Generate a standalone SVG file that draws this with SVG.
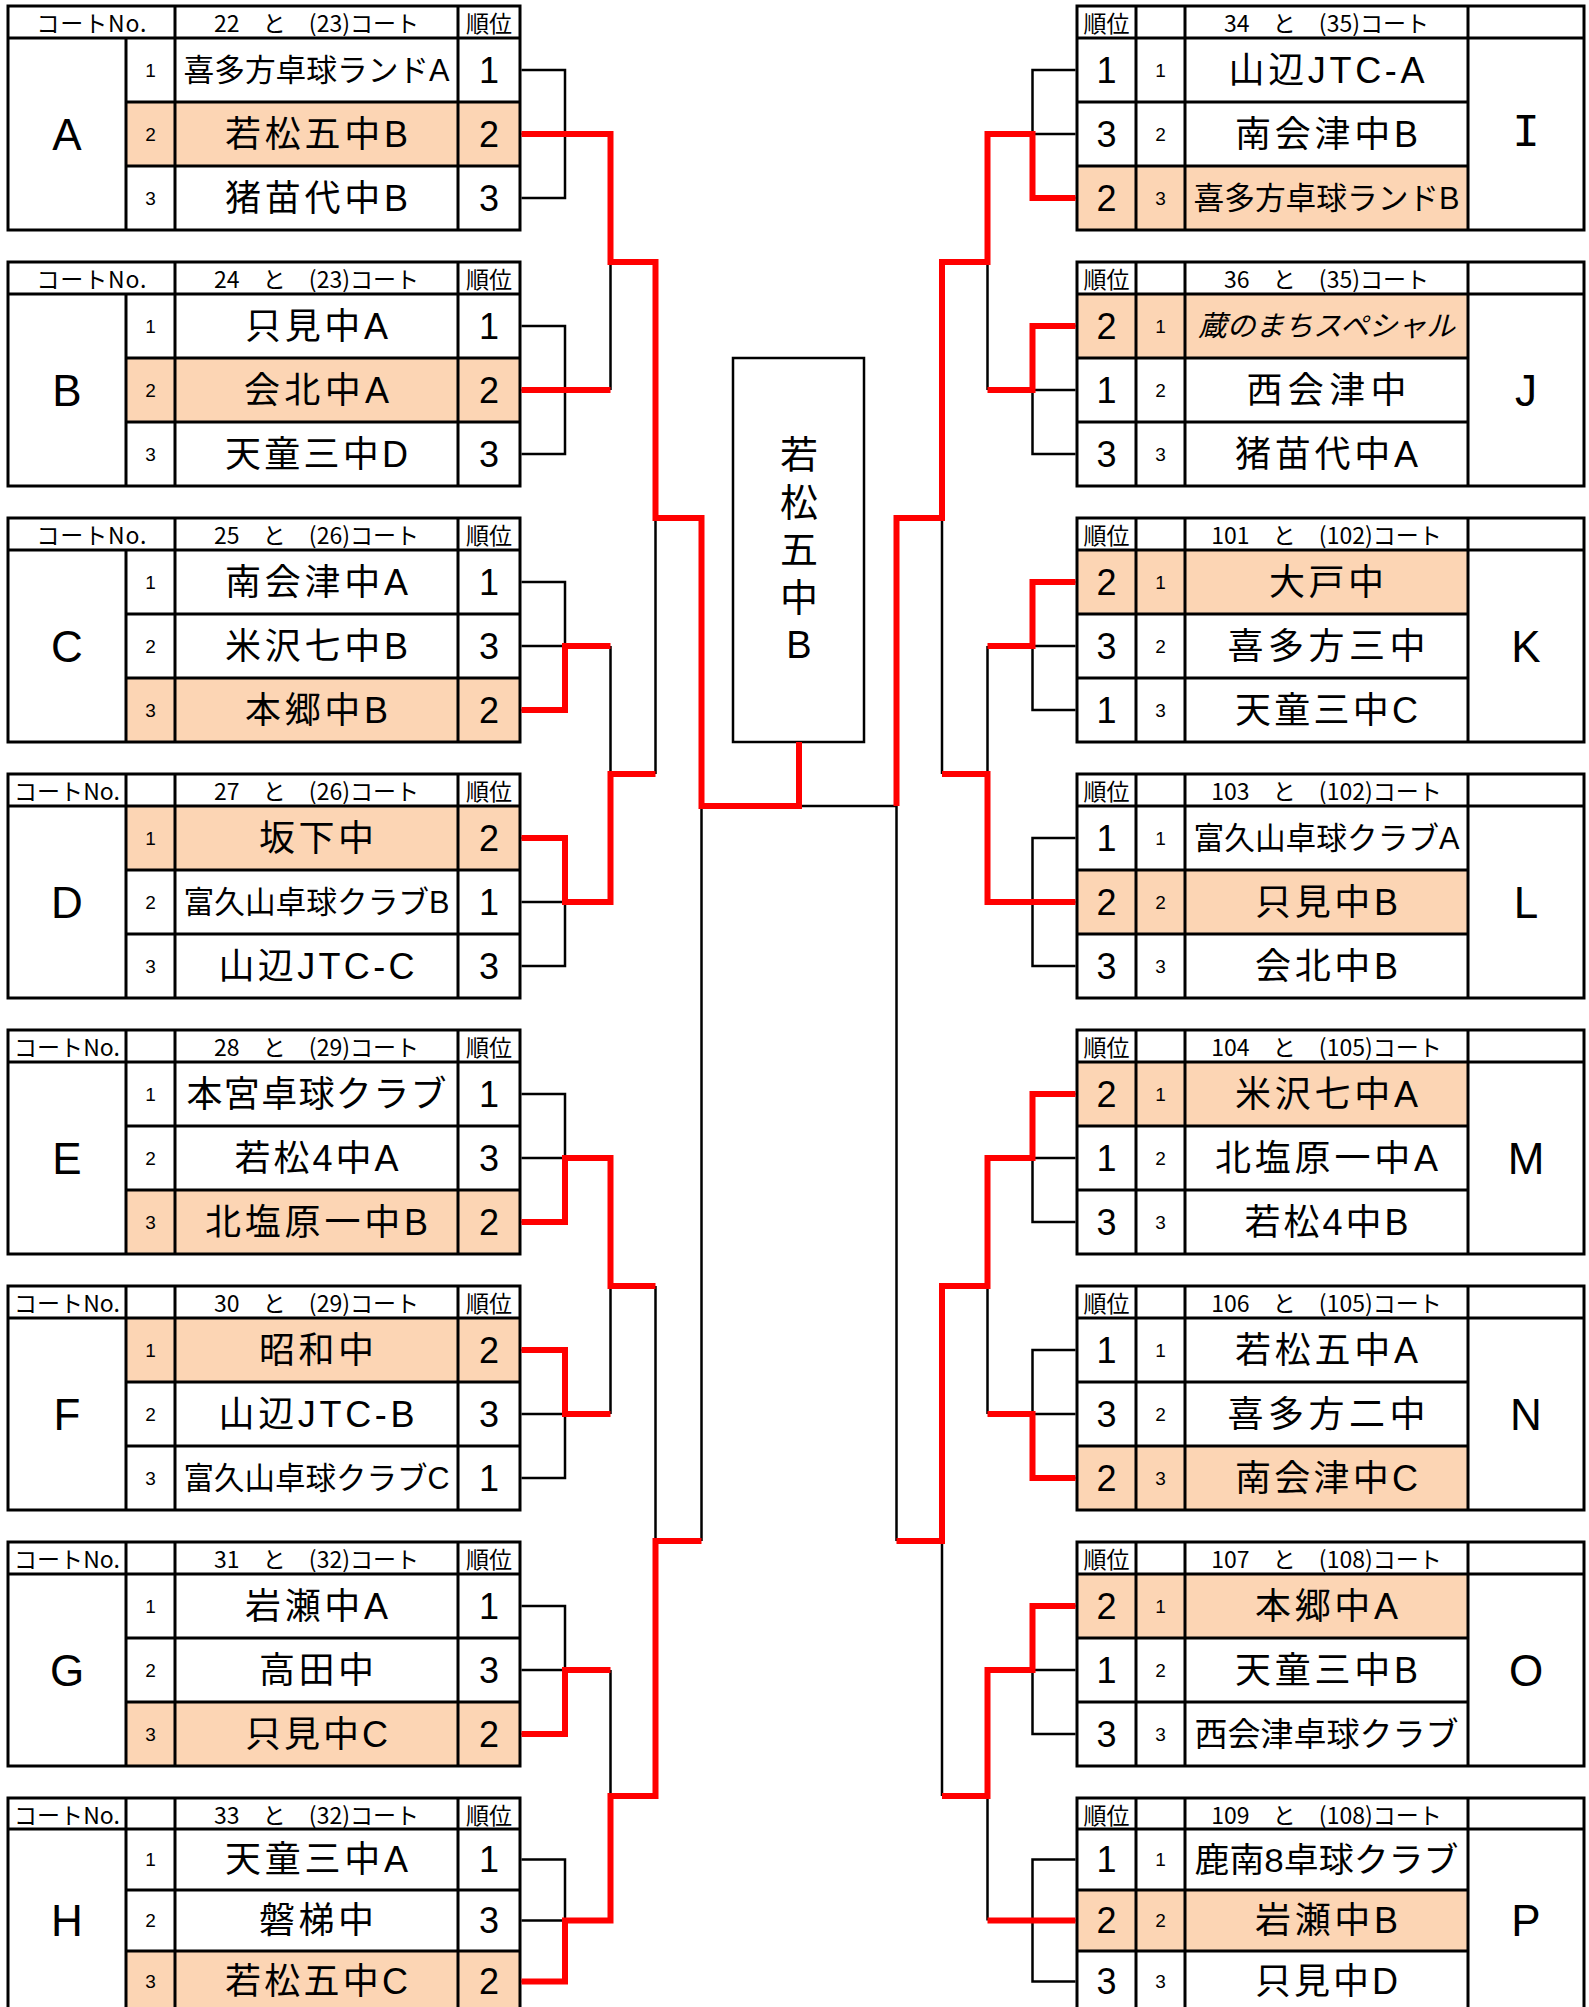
<svg xmlns="http://www.w3.org/2000/svg" width="1589" height="2007" viewBox="0 0 1589 2007">
<style>
.tb{fill:none;stroke:#000;stroke-width:3}
.ln{fill:none;stroke:#000;stroke-width:3}
.hl{fill:#FCD5B4}
.bk{fill:none;stroke:#000;stroke-width:2.5}
.rd{fill:none;stroke:#FF0000;stroke-width:6;stroke-linejoin:miter}
.nm{font-family:"Liberation Sans","Noto Sans CJK JP","Noto Sans CJK SC",sans-serif;font-size:36px;text-anchor:middle;dominant-baseline:central;fill:#000}
.sm{font-size:31px}
.it{font-style:italic;font-size:28.5px}
.hd{font-family:"Noto Sans CJK JP","Noto Sans CJK SC",sans-serif;font-size:23px;word-spacing:18px;text-anchor:middle;dominant-baseline:central;fill:#000}
.rk{font-family:"Liberation Sans",Arial,sans-serif;font-size:36px;text-anchor:middle;dominant-baseline:central;fill:#000}
.no{font-family:"Liberation Sans",Arial,sans-serif;font-size:19px;text-anchor:middle;dominant-baseline:central;fill:#000}
.lt{font-family:"Liberation Sans",Arial,sans-serif;font-size:44px;text-anchor:middle;dominant-baseline:central;fill:#000}
.ce{font-family:"Liberation Sans","Noto Sans CJK JP","Noto Sans CJK SC",sans-serif;font-size:38px;text-anchor:middle;dominant-baseline:central;fill:#000}
</style>
<rect x="0" y="0" width="1589" height="2007" fill="#FFFFFF"/>

<!-- LEFT TABLES -->
<g id="table-A">
<rect class="hl" x="126" y="102" width="394" height="64"/>
<rect class="tb" x="8" y="6" width="512" height="224"/>
<path class="ln" d="M8,38H520M126,102H520M126,166H520M126,38V230M175,6V230M458,6V230"/>
<text class="hd" x="91.5" y="22" textLength="110" lengthAdjust="spacing">コートNo.</text>
<text class="hd" x="316.5" y="22">22 と (23)コート</text>
<text class="hd" x="489" y="22">順位</text>
<text class="lt" x="67" y="134">A</text>
<text class="no" x="150.5" y="70">1</text><text class="no" x="150.5" y="134">2</text><text class="no" x="150.5" y="198">3</text>
<text class="nm sm" x="316.5" y="70" textLength="266" lengthAdjust="spacingAndGlyphs">喜多方卓球ランドA</text>
<text class="nm" x="316.5" y="134" textLength="183" lengthAdjust="spacing">若松五中B</text>
<text class="nm" x="316.5" y="198" textLength="183" lengthAdjust="spacing">猪苗代中B</text>
<text class="rk" x="489" y="70">1</text><text class="rk" x="489" y="134">2</text><text class="rk" x="489" y="198">3</text>
</g>

<g id="table-B">
<rect class="hl" x="126" y="358" width="394" height="64"/>
<rect class="tb" x="8" y="262" width="512" height="224"/>
<path class="ln" d="M8,294H520M126,358H520M126,422H520M126,294V486M175,262V486M458,262V486"/>
<text class="hd" x="91.5" y="278" textLength="110" lengthAdjust="spacing">コートNo.</text>
<text class="hd" x="316.5" y="278">24 と (23)コート</text>
<text class="hd" x="489" y="278">順位</text>
<text class="lt" x="67" y="390">B</text>
<text class="no" x="150.5" y="326">1</text><text class="no" x="150.5" y="390">2</text><text class="no" x="150.5" y="454">3</text>
<text class="nm" x="316.5" y="326" textLength="143" lengthAdjust="spacing">只見中A</text>
<text class="nm" x="316.5" y="390" textLength="145" lengthAdjust="spacing">会北中A</text>
<text class="nm" x="316.5" y="454" textLength="183" lengthAdjust="spacing">天童三中D</text>
<text class="rk" x="489" y="326">1</text><text class="rk" x="489" y="390">2</text><text class="rk" x="489" y="454">3</text>
</g>

<g id="table-C">
<rect class="hl" x="126" y="678" width="394" height="64"/>
<rect class="tb" x="8" y="518" width="512" height="224"/>
<path class="ln" d="M8,550H520M126,614H520M126,678H520M126,550V742M175,518V742M458,518V742"/>
<text class="hd" x="91.5" y="534" textLength="110" lengthAdjust="spacing">コートNo.</text>
<text class="hd" x="316.5" y="534">25 と (26)コート</text>
<text class="hd" x="489" y="534">順位</text>
<text class="lt" x="67" y="646">C</text>
<text class="no" x="150.5" y="582">1</text><text class="no" x="150.5" y="646">2</text><text class="no" x="150.5" y="710">3</text>
<text class="nm" x="316.5" y="582" textLength="183" lengthAdjust="spacing">南会津中A</text>
<text class="nm" x="316.5" y="646" textLength="183" lengthAdjust="spacing">米沢七中B</text>
<text class="nm" x="316.5" y="710" textLength="143" lengthAdjust="spacing">本郷中B</text>
<text class="rk" x="489" y="582">1</text><text class="rk" x="489" y="646">3</text><text class="rk" x="489" y="710">2</text>
</g>

<g id="table-D">
<rect class="hl" x="126" y="806" width="394" height="64"/>
<rect class="tb" x="8" y="774" width="512" height="224"/>
<path class="ln" d="M8,806H520M126,870H520M126,934H520M126,774V998M175,774V998M458,774V998"/>
<text class="hd" x="67" y="790" textLength="106" lengthAdjust="spacing">コートNo.</text>
<text class="hd" x="316.5" y="790">27 と (26)コート</text>
<text class="hd" x="489" y="790">順位</text>
<text class="lt" x="67" y="902">D</text>
<text class="no" x="150.5" y="838">1</text><text class="no" x="150.5" y="902">2</text><text class="no" x="150.5" y="966">3</text>
<text class="nm" x="316.5" y="838" textLength="115" lengthAdjust="spacing">坂下中</text>
<text class="nm sm" x="316.5" y="902" textLength="266" lengthAdjust="spacingAndGlyphs">富久山卓球クラブB</text>
<text class="nm" x="316.5" y="966" textLength="196" lengthAdjust="spacing">山辺JTC-C</text>
<text class="rk" x="489" y="838">2</text><text class="rk" x="489" y="902">1</text><text class="rk" x="489" y="966">3</text>
</g>

<g id="table-E">
<rect class="hl" x="126" y="1190" width="394" height="64"/>
<rect class="tb" x="8" y="1030" width="512" height="224"/>
<path class="ln" d="M8,1062H520M126,1126H520M126,1190H520M126,1030V1254M175,1030V1254M458,1030V1254"/>
<text class="hd" x="67" y="1046" textLength="106" lengthAdjust="spacing">コートNo.</text>
<text class="hd" x="316.5" y="1046">28 と (29)コート</text>
<text class="hd" x="489" y="1046">順位</text>
<text class="lt" x="67" y="1158">E</text>
<text class="no" x="150.5" y="1094">1</text><text class="no" x="150.5" y="1158">2</text><text class="no" x="150.5" y="1222">3</text>
<text class="nm" x="316.5" y="1094" textLength="260" lengthAdjust="spacing">本宮卓球クラブ</text>
<text class="nm" x="316.5" y="1158" textLength="164" lengthAdjust="spacing">若松4中A</text>
<text class="nm" x="316.5" y="1222" textLength="223" lengthAdjust="spacing">北塩原一中B</text>
<text class="rk" x="489" y="1094">1</text><text class="rk" x="489" y="1158">3</text><text class="rk" x="489" y="1222">2</text>
</g>

<g id="table-F">
<rect class="hl" x="126" y="1318" width="394" height="64"/>
<rect class="tb" x="8" y="1286" width="512" height="224"/>
<path class="ln" d="M8,1318H520M126,1382H520M126,1446H520M126,1286V1510M175,1286V1510M458,1286V1510"/>
<text class="hd" x="67" y="1302" textLength="106" lengthAdjust="spacing">コートNo.</text>
<text class="hd" x="316.5" y="1302">30 と (29)コート</text>
<text class="hd" x="489" y="1302">順位</text>
<text class="lt" x="67" y="1414">F</text>
<text class="no" x="150.5" y="1350">1</text><text class="no" x="150.5" y="1414">2</text><text class="no" x="150.5" y="1478">3</text>
<text class="nm" x="316.5" y="1350" textLength="115" lengthAdjust="spacing">昭和中</text>
<text class="nm" x="316.5" y="1414" textLength="196" lengthAdjust="spacing">山辺JTC-B</text>
<text class="nm sm" x="316.5" y="1478" textLength="266" lengthAdjust="spacingAndGlyphs">富久山卓球クラブC</text>
<text class="rk" x="489" y="1350">2</text><text class="rk" x="489" y="1414">3</text><text class="rk" x="489" y="1478">1</text>
</g>

<g id="table-G">
<rect class="hl" x="126" y="1702" width="394" height="64"/>
<rect class="tb" x="8" y="1542" width="512" height="224"/>
<path class="ln" d="M8,1574H520M126,1638H520M126,1702H520M126,1542V1766M175,1542V1766M458,1542V1766"/>
<text class="hd" x="67" y="1558" textLength="106" lengthAdjust="spacing">コートNo.</text>
<text class="hd" x="316.5" y="1558">31 と (32)コート</text>
<text class="hd" x="489" y="1558">順位</text>
<text class="lt" x="67" y="1670">G</text>
<text class="no" x="150.5" y="1606">1</text><text class="no" x="150.5" y="1670">2</text><text class="no" x="150.5" y="1734">3</text>
<text class="nm" x="316.5" y="1606" textLength="143" lengthAdjust="spacing">岩瀬中A</text>
<text class="nm" x="316.5" y="1670" textLength="115" lengthAdjust="spacing">高田中</text>
<text class="nm" x="316.5" y="1734" textLength="143" lengthAdjust="spacing">只見中C</text>
<text class="rk" x="489" y="1606">1</text><text class="rk" x="489" y="1670">3</text><text class="rk" x="489" y="1734">2</text>
</g>

<g id="table-H">
<rect class="hl" x="126" y="1951" width="394" height="61"/>
<rect class="tb" x="8" y="1798" width="512" height="214"/>
<path class="ln" d="M8,1829H520M126,1890H520M126,1951H520M126,1798V2012M175,1798V2012M458,1798V2012"/>
<text class="hd" x="67" y="1813.5" textLength="106" lengthAdjust="spacing">コートNo.</text>
<text class="hd" x="316.5" y="1813.5">33 と (32)コート</text>
<text class="hd" x="489" y="1813.5">順位</text>
<text class="lt" x="67" y="1920.5">H</text>
<text class="no" x="150.5" y="1859.5">1</text><text class="no" x="150.5" y="1920.5">2</text><text class="no" x="150.5" y="1981.5">3</text>
<text class="nm" x="316.5" y="1859.5" textLength="183" lengthAdjust="spacing">天童三中A</text>
<text class="nm" x="316.5" y="1920.5" textLength="115" lengthAdjust="spacing">磐梯中</text>
<text class="nm" x="316.5" y="1981.5" textLength="183" lengthAdjust="spacing">若松五中C</text>
<text class="rk" x="489" y="1859.5">1</text><text class="rk" x="489" y="1920.5">3</text><text class="rk" x="489" y="1981.5">2</text>
</g>

<!-- RIGHT TABLES -->
<g id="table-I">
<rect class="hl" x="1077" y="166" width="391" height="64"/>
<rect class="tb" x="1077" y="6" width="507" height="224"/>
<path class="ln" d="M1077,38H1584M1077,102H1468M1077,166H1468M1136,6V230M1185,6V230M1468,6V230"/>
<text class="hd" x="1106.5" y="22">順位</text>
<text class="hd" x="1326.5" y="22">34 と (35)コート</text>
<text x="1526" y="134" font-family="'Liberation Mono',monospace" font-size="46" text-anchor="middle" dominant-baseline="central">I</text>
<text class="rk" x="1106.5" y="70">1</text><text class="rk" x="1106.5" y="134">3</text><text class="rk" x="1106.5" y="198">2</text>
<text class="no" x="1160.5" y="70">1</text><text class="no" x="1160.5" y="134">2</text><text class="no" x="1160.5" y="198">3</text>
<text class="nm" x="1326.5" y="70" textLength="196" lengthAdjust="spacing">山辺JTC-A</text>
<text class="nm" x="1326.5" y="134" textLength="183" lengthAdjust="spacing">南会津中B</text>
<text class="nm sm" x="1326.5" y="198" textLength="266" lengthAdjust="spacingAndGlyphs">喜多方卓球ランドB</text>
</g>

<g id="table-J">
<rect class="hl" x="1077" y="294" width="391" height="64"/>
<rect class="tb" x="1077" y="262" width="507" height="224"/>
<path class="ln" d="M1077,294H1584M1077,358H1468M1077,422H1468M1136,262V486M1185,262V486M1468,262V486"/>
<text class="hd" x="1106.5" y="278">順位</text>
<text class="hd" x="1326.5" y="278">36 と (35)コート</text>
<text class="lt" x="1526" y="390">J</text>
<text class="rk" x="1106.5" y="326">2</text><text class="rk" x="1106.5" y="390">1</text><text class="rk" x="1106.5" y="454">3</text>
<text class="no" x="1160.5" y="326">1</text><text class="no" x="1160.5" y="390">2</text><text class="no" x="1160.5" y="454">3</text>
<text class="nm it" x="1326.5" y="326" textLength="257" lengthAdjust="spacingAndGlyphs">蔵のまちスペシャル</text>
<text class="nm" x="1326.5" y="390" textLength="160" lengthAdjust="spacing">西会津中</text>
<text class="nm" x="1326.5" y="454" textLength="183" lengthAdjust="spacing">猪苗代中A</text>
</g>

<g id="table-K">
<rect class="hl" x="1077" y="550" width="391" height="64"/>
<rect class="tb" x="1077" y="518" width="507" height="224"/>
<path class="ln" d="M1077,550H1584M1077,614H1468M1077,678H1468M1136,518V742M1185,518V742M1468,518V742"/>
<text class="hd" x="1106.5" y="534">順位</text>
<text class="hd" x="1326.5" y="534">101 と (102)コート</text>
<text class="lt" x="1526" y="646">K</text>
<text class="rk" x="1106.5" y="582">2</text><text class="rk" x="1106.5" y="646">3</text><text class="rk" x="1106.5" y="710">1</text>
<text class="no" x="1160.5" y="582">1</text><text class="no" x="1160.5" y="646">2</text><text class="no" x="1160.5" y="710">3</text>
<text class="nm" x="1326.5" y="582" textLength="115" lengthAdjust="spacing">大戸中</text>
<text class="nm" x="1326.5" y="646" textLength="198" lengthAdjust="spacing">喜多方三中</text>
<text class="nm" x="1326.5" y="710" textLength="183" lengthAdjust="spacing">天童三中C</text>
</g>

<g id="table-L">
<rect class="hl" x="1077" y="870" width="391" height="64"/>
<rect class="tb" x="1077" y="774" width="507" height="224"/>
<path class="ln" d="M1077,806H1584M1077,870H1468M1077,934H1468M1136,774V998M1185,774V998M1468,774V998"/>
<text class="hd" x="1106.5" y="790">順位</text>
<text class="hd" x="1326.5" y="790">103 と (102)コート</text>
<text class="lt" x="1526" y="902">L</text>
<text class="rk" x="1106.5" y="838">1</text><text class="rk" x="1106.5" y="902">2</text><text class="rk" x="1106.5" y="966">3</text>
<text class="no" x="1160.5" y="838">1</text><text class="no" x="1160.5" y="902">2</text><text class="no" x="1160.5" y="966">3</text>
<text class="nm sm" x="1326.5" y="838" textLength="266" lengthAdjust="spacingAndGlyphs">富久山卓球クラブA</text>
<text class="nm" x="1326.5" y="902" textLength="143" lengthAdjust="spacing">只見中B</text>
<text class="nm" x="1326.5" y="966" textLength="143" lengthAdjust="spacing">会北中B</text>
</g>

<g id="table-M">
<rect class="hl" x="1077" y="1062" width="391" height="64"/>
<rect class="tb" x="1077" y="1030" width="507" height="224"/>
<path class="ln" d="M1077,1062H1584M1077,1126H1468M1077,1190H1468M1136,1030V1254M1185,1030V1254M1468,1030V1254"/>
<text class="hd" x="1106.5" y="1046">順位</text>
<text class="hd" x="1326.5" y="1046">104 と (105)コート</text>
<text class="lt" x="1526" y="1158">M</text>
<text class="rk" x="1106.5" y="1094">2</text><text class="rk" x="1106.5" y="1158">1</text><text class="rk" x="1106.5" y="1222">3</text>
<text class="no" x="1160.5" y="1094">1</text><text class="no" x="1160.5" y="1158">2</text><text class="no" x="1160.5" y="1222">3</text>
<text class="nm" x="1326.5" y="1094" textLength="183" lengthAdjust="spacing">米沢七中A</text>
<text class="nm" x="1326.5" y="1158" textLength="223" lengthAdjust="spacing">北塩原一中A</text>
<text class="nm" x="1326.5" y="1222" textLength="164" lengthAdjust="spacing">若松4中B</text>
</g>

<g id="table-N">
<rect class="hl" x="1077" y="1446" width="391" height="64"/>
<rect class="tb" x="1077" y="1286" width="507" height="224"/>
<path class="ln" d="M1077,1318H1584M1077,1382H1468M1077,1446H1468M1136,1286V1510M1185,1286V1510M1468,1286V1510"/>
<text class="hd" x="1106.5" y="1302">順位</text>
<text class="hd" x="1326.5" y="1302">106 と (105)コート</text>
<text class="lt" x="1526" y="1414">N</text>
<text class="rk" x="1106.5" y="1350">1</text><text class="rk" x="1106.5" y="1414">3</text><text class="rk" x="1106.5" y="1478">2</text>
<text class="no" x="1160.5" y="1350">1</text><text class="no" x="1160.5" y="1414">2</text><text class="no" x="1160.5" y="1478">3</text>
<text class="nm" x="1326.5" y="1350" textLength="183" lengthAdjust="spacing">若松五中A</text>
<text class="nm" x="1326.5" y="1414" textLength="198" lengthAdjust="spacing">喜多方二中</text>
<text class="nm" x="1326.5" y="1478" textLength="183" lengthAdjust="spacing">南会津中C</text>
</g>

<g id="table-O">
<rect class="hl" x="1077" y="1574" width="391" height="64"/>
<rect class="tb" x="1077" y="1542" width="507" height="224"/>
<path class="ln" d="M1077,1574H1584M1077,1638H1468M1077,1702H1468M1136,1542V1766M1185,1542V1766M1468,1542V1766"/>
<text class="hd" x="1106.5" y="1558">順位</text>
<text class="hd" x="1326.5" y="1558">107 と (108)コート</text>
<text class="lt" x="1526" y="1670">O</text>
<text class="rk" x="1106.5" y="1606">2</text><text class="rk" x="1106.5" y="1670">1</text><text class="rk" x="1106.5" y="1734">3</text>
<text class="no" x="1160.5" y="1606">1</text><text class="no" x="1160.5" y="1670">2</text><text class="no" x="1160.5" y="1734">3</text>
<text class="nm" x="1326.5" y="1606" textLength="143" lengthAdjust="spacing">本郷中A</text>
<text class="nm" x="1326.5" y="1670" textLength="183" lengthAdjust="spacing">天童三中B</text>
<text class="nm" x="1326.5" y="1734" style="font-size:33px" textLength="264" lengthAdjust="spacingAndGlyphs">西会津卓球クラブ</text>
</g>

<g id="table-P">
<rect class="hl" x="1077" y="1890" width="391" height="61"/>
<rect class="tb" x="1077" y="1798" width="507" height="214"/>
<path class="ln" d="M1077,1829H1584M1077,1890H1468M1077,1951H1468M1136,1798V2012M1185,1798V2012M1468,1798V2012"/>
<text class="hd" x="1106.5" y="1813.5">順位</text>
<text class="hd" x="1326.5" y="1813.5">109 と (108)コート</text>
<text class="lt" x="1526" y="1920.5">P</text>
<text class="rk" x="1106.5" y="1859.5">1</text><text class="rk" x="1106.5" y="1920.5">2</text><text class="rk" x="1106.5" y="1981.5">3</text>
<text class="no" x="1160.5" y="1859.5">1</text><text class="no" x="1160.5" y="1920.5">2</text><text class="no" x="1160.5" y="1981.5">3</text>
<text class="nm" x="1326.5" y="1859.5" style="font-size:34px" textLength="264" lengthAdjust="spacingAndGlyphs">鹿南8卓球クラブ</text>
<text class="nm" x="1326.5" y="1920.5" textLength="143" lengthAdjust="spacing">岩瀬中B</text>
<text class="nm" x="1326.5" y="1981.5" textLength="143" lengthAdjust="spacing">只見中D</text>
</g>

<!-- CHAMPION BOX -->
<g id="champion">
<rect x="733" y="358" width="131" height="384" fill="#FFFFFF" stroke="#000" stroke-width="2.5"/>
<text class="ce"><tspan x="799" y="455">若</tspan><tspan x="799" y="502.5">松</tspan><tspan x="799" y="550">五</tspan><tspan x="799" y="597.5">中</tspan><tspan x="799" y="645">B</tspan></text>
</g>

<!-- CONNECTORS -->
<g id="connectors">
<path class="bk" d="
M521.5,70H565V198H521.5M521.5,134H565
M521.5,326H565V454H521.5M521.5,390H565
M521.5,582H565V710H521.5M521.5,646H565
M521.5,838H565V966H521.5M521.5,902H565
M521.5,1094H565V1222H521.5M521.5,1158H565
M521.5,1350H565V1478H521.5M521.5,1414H565
M521.5,1606H565V1734H521.5M521.5,1670H565
M521.5,1859.5H565V1981.5H521.5M521.5,1920.5H565
M610.5,134V390M610.5,646V902M610.5,1158V1414M610.5,1670V1920.5
M655.5,262V774M655.5,1286V1796
M701.5,518V1541
"/>
<path class="bk" d="
M1075.5,70H1032.5V198H1075.5M1075.5,134H1032.5
M1075.5,326H1032.5V454H1075.5M1075.5,390H1032.5
M1075.5,582H1032.5V710H1075.5M1075.5,646H1032.5
M1075.5,838H1032.5V966H1075.5M1075.5,902H1032.5
M1075.5,1094H1032.5V1222H1075.5M1075.5,1158H1032.5
M1075.5,1350H1032.5V1478H1075.5M1075.5,1414H1032.5
M1075.5,1606H1032.5V1734H1075.5M1075.5,1670H1032.5
M1075.5,1859.5H1032.5V1981.5H1075.5M1075.5,1920.5H1032.5
M987.5,134V390M987.5,646V902M987.5,1158V1414M987.5,1670V1920.5
M942,262V774M942,1286V1796
M896.5,518V1541
M896.5,806H799
"/>
<path class="rd" d="M521.5,134H610.5V262H655.5V518H701.5V806H799V742"/>
<path class="rd" d="M521.5,390H610.5"/>
<path class="rd" d="M521.5,710H565V646H610.5"/>
<path class="rd" d="M521.5,838H565V902H610.5V774H655.5"/>
<path class="rd" d="M521.5,1222H565V1158H610.5V1286H655.5"/>
<path class="rd" d="M521.5,1350H565V1414H610.5"/>
<path class="rd" d="M521.5,1734H565V1670H610.5"/>
<path class="rd" d="M521.5,1981.5H565V1920.5H610.5V1796H655.5V1541H701.5"/>
<path class="rd" d="M1075.5,198H1032.5V134H987.5V262H942V518H896.5V806"/>
<path class="rd" d="M1075.5,326H1032.5V390H987.5"/>
<path class="rd" d="M1075.5,582H1032.5V646H987.5"/>
<path class="rd" d="M1075.5,902H987.5V774H942"/>
<path class="rd" d="M1075.5,1094H1032.5V1158H987.5V1286H942V1541H896.5"/>
<path class="rd" d="M1075.5,1478H1032.5V1414H987.5"/>
<path class="rd" d="M1075.5,1606H1032.5V1670H987.5V1796H942"/>
<path class="rd" d="M1075.5,1920.5H987.5"/>
</g>
</svg>
